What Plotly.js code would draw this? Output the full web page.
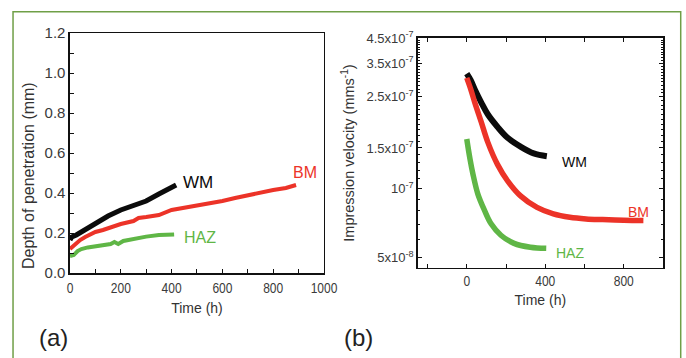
<!DOCTYPE html>
<html>
<head>
<meta charset="utf-8">
<script src="https://cdn.plot.ly/plotly-3.0.1.min.js"></script>
<style>html,body{margin:0;padding:0;background:#fff;}#chart{width:686px;height:358px;}</style>
</head>
<body>
<div id="chart"></div>
<script>
// ---- Panel (a): depth of penetration ----
const wmTimeA = [0, 7, 25, 50, 75, 100, 150, 200, 250, 300, 350, 400, 418];
const wmDepthA = [0.165, 0.18, 0.19, 0.21, 0.23, 0.25, 0.285, 0.315, 0.34, 0.36, 0.395, 0.425, 0.44];
const bmTimeA = [0, 20, 40, 60, 80, 100, 130, 150, 200, 250, 270, 300, 350, 400, 450, 500, 550, 600, 650, 700, 750, 800, 850, 890];
const bmDepthA = [0.12, 0.145, 0.165, 0.18, 0.195, 0.205, 0.215, 0.225, 0.245, 0.26, 0.275, 0.28, 0.29, 0.315, 0.325, 0.335, 0.35, 0.36, 0.375, 0.39, 0.4, 0.415, 0.425, 0.44];
const hazTimeA = [0, 15, 30, 45, 70, 100, 130, 160, 175, 190, 210, 250, 300, 350, 380, 410];
const hazDepthA = [0.085, 0.09, 0.11, 0.12, 0.128, 0.135, 0.14, 0.145, 0.155, 0.145, 0.16, 0.172, 0.182, 0.19, 0.193, 0.193];

// ---- Panel (b): impression velocity ----
const wmTimeB = [0, 20, 41, 74, 107, 157, 208, 274, 341, 408];
const wmVelB = [3.15e-7, 2.95e-7, 2.69e-7, 2.36e-7, 2.10e-7, 1.85e-7, 1.66e-7, 1.52e-7, 1.42e-7, 1.38e-7];
const bmTimeB = [0, 20, 41, 74, 107, 157, 208, 274, 358, 441, 525, 608, 692, 800, 900];
const bmVelB = [3.02e-7, 2.7e-7, 2.36e-7, 1.94e-7, 1.59e-7, 1.27e-7, 1.08e-7, 9.29e-8, 8.28e-8, 7.76e-8, 7.5e-8, 7.38e-8, 7.33e-8, 7.28e-8, 7.26e-8];
const hazTimeB = [0, 16, 32, 57, 91, 124, 174, 241, 324, 405];
const hazVelB = [1.64e-7, 1.35e-7, 1.15e-7, 9.44e-8, 8.02e-8, 7.03e-8, 6.27e-8, 5.78e-8, 5.56e-8, 5.50e-8];

const velTickVals = [5e-8, 1e-7, 1.5e-7, 2.5e-7, 3.5e-7, 4.5e-7];
const velTickText = ['5x10<sup>-8</sup>', '10<sup>-7</sup>', '1.5x10<sup>-7</sup>', '2.5x10<sup>-7</sup>', '3.5x10<sup>-7</sup>', '4.5x10<sup>-7</sup>'];
const velMinorVals = [6e-8, 7e-8, 8e-8, 9e-8, 1.1e-7, 1.2e-7, 1.3e-7, 1.4e-7, 1.6e-7, 1.7e-7, 1.8e-7, 1.9e-7, 2e-7, 2.1e-7, 2.2e-7, 2.3e-7, 2.4e-7, 2.6e-7, 2.7e-7, 2.8e-7, 2.9e-7, 3e-7, 3.1e-7, 3.2e-7, 3.3e-7, 3.4e-7, 3.6e-7, 3.7e-7, 3.8e-7, 3.9e-7, 4e-7, 4.1e-7, 4.2e-7, 4.3e-7, 4.4e-7];
const timeTicksB = [0, 400, 800];
const timeMinorB = [-200, 200, 600];

const BLACK = '#0b0b0b', RED = '#ec3328', GREEN = '#5fb646';
const SANS = '"Liberation Sans", Arial, sans-serif';

const traces = [
  {x: wmTimeA, y: wmDepthA, xaxis: 'x', yaxis: 'y', mode: 'lines', line: {color: BLACK, width: 5}},
  {x: bmTimeA, y: bmDepthA, xaxis: 'x', yaxis: 'y', mode: 'lines', line: {color: RED, width: 4}},
  {x: hazTimeA, y: hazDepthA, xaxis: 'x', yaxis: 'y', mode: 'lines', line: {color: GREEN, width: 4}},
  {x: wmTimeB, y: wmVelB, xaxis: 'x2', yaxis: 'y2', mode: 'lines', line: {color: BLACK, width: 6, shape: 'spline'}},
  {x: bmTimeB, y: bmVelB, xaxis: 'x2', yaxis: 'y2', mode: 'lines', line: {color: RED, width: 5.5, shape: 'spline'}},
  {x: hazTimeB, y: hazVelB, xaxis: 'x2', yaxis: 'y2', mode: 'lines', line: {color: GREEN, width: 5.5, shape: 'spline'}}
];

const axisBase = {
  showline: true, linecolor: '#111', linewidth: 1.5, showgrid: false, zeroline: false,
  ticks: 'inside', ticklen: 4, tickwidth: 1, tickcolor: '#111',
  tickfont: {family: SANS, size: 15, color: '#3a3a3a'}
};

const layout = {
  width: 686, height: 358,
  margin: {l: 0, r: 0, t: 0, b: 0},
  paper_bgcolor: '#ffffff', plot_bgcolor: '#ffffff',
  showlegend: false,
  xaxis: Object.assign({}, axisBase, {
    domain: [0.1020, 0.4723], anchor: 'y', range: [0, 1000], mirror: true,
    tick0: 0, dtick: 200, minor: {dtick: 100, ticks: 'inside', ticklen: 4, tickcolor: '#111'},
    title: {text: 'Time (h)', font: {family: SANS, size: 14, color: '#333'}, standoff: 8}
  }),
  yaxis: Object.assign({}, axisBase, {
    domain: [0.2374, 0.9078], anchor: 'x', range: [0, 1.2], mirror: true,
    tick0: 0, dtick: 0.2, tickformat: '.1f', minor: {dtick: 0.1, ticks: 'inside', ticklen: 4, tickcolor: '#111'}
  }),
  xaxis2: Object.assign({}, axisBase, {
    domain: [0.6089, 0.9665], anchor: 'y2', range: [-250, 1000], mirror: 'ticks',
    tickmode: 'array', tickvals: timeTicksB,
    tickfont: {family: SANS, size: 14, color: '#3a3a3a'},
    minor: {tickmode: 'array', tickvals: timeMinorB, ticks: 'inside', ticklen: 4, tickcolor: '#111'},
    title: {text: 'Time (h)', font: {family: SANS, size: 14, color: '#333'}, standoff: 7}
  }),
  yaxis2: Object.assign({}, axisBase, {
    domain: [0.2514, 0.8939], anchor: 'x2', type: 'log',
    range: [Math.log10(4.52e-8), Math.log10(4.5e-7)], mirror: 'ticks',
    tickmode: 'array', tickvals: velTickVals, ticktext: velTickText,
    tickfont: {family: SANS, size: 13, color: '#3a3a3a'},
    minor: {tickmode: 'array', tickvals: velMinorVals, ticks: 'inside', ticklen: 2.5, tickcolor: '#111'},
    title: {text: 'Impression velocity (mms<sup>-1</sup>)', font: {family: SANS, size: 14.5, color: '#333'}, standoff: 8}
  }),
  shapes: [
    {type: 'rect', xref: 'paper', yref: 'paper', x0: 0.0190, x1: 0.9923, y0: -0.1, y1: 0.9673,
     line: {color: '#6f9f47', width: 1.5}, fillcolor: 'rgba(0,0,0,0)', layer: 'below'}
  ],
  annotations: [
    {text: 'Depth of penetration (mm)', xref: 'paper', yref: 'paper', x: 0.0408, y: 0.511, textangle: -90, showarrow: false, xanchor: 'center', yanchor: 'middle', font: {family: SANS, size: 16, color: '#333'}},
    {text: '(a)', xref: 'paper', yref: 'paper', x: 0.0773, y: 0.0559, showarrow: false, xanchor: 'center', yanchor: 'middle', font: {family: SANS, size: 24, color: '#222'}},
    {text: '(b)', xref: 'paper', yref: 'paper', x: 0.5233, y: 0.0559, showarrow: false, xanchor: 'center', yanchor: 'middle', font: {family: SANS, size: 24, color: '#222'}},
    {text: 'WM', xref: 'x', yref: 'y', x: 504, y: 0.455, showarrow: false, font: {family: SANS, size: 17, color: BLACK}},
    {text: 'BM', xref: 'x', yref: 'y', x: 927, y: 0.505, showarrow: false, font: {family: SANS, size: 16, color: RED}},
    {text: 'HAZ', xref: 'x', yref: 'y', x: 511, y: 0.18, showarrow: false, font: {family: SANS, size: 16, color: GREEN}},
    {text: 'WM', xref: 'x2', yref: 'y2', x: 551, y: Math.log10(1.305e-7), showarrow: false, font: {family: SANS, size: 14, color: BLACK}},
    {text: 'BM', xref: 'x2', yref: 'y2', x: 877, y: Math.log10(7.92e-8), showarrow: false, font: {family: SANS, size: 14, color: RED}},
    {text: 'HAZ', xref: 'x2', yref: 'y2', x: 526, y: Math.log10(5.26e-8), showarrow: false, font: {family: SANS, size: 14, color: GREEN}}
  ]
};

function condense(selector, factor) {
  document.querySelectorAll(selector).forEach(function (t) {
    const w = t.getComputedTextLength();
    if (w > 0) {
      t.setAttribute('textLength', (w * factor).toFixed(2));
      t.setAttribute('lengthAdjust', 'spacingAndGlyphs');
    }
  });
}

Plotly.newPlot('chart', traces, layout, {staticPlot: true, displayModeBar: false}).then(function () {
  // the time-axis numbers in the reference are set in a narrower face
  condense('g.xtick > text', 0.8);
  condense('g.x2tick > text', 0.86);
});
</script>
</body>
</html>
